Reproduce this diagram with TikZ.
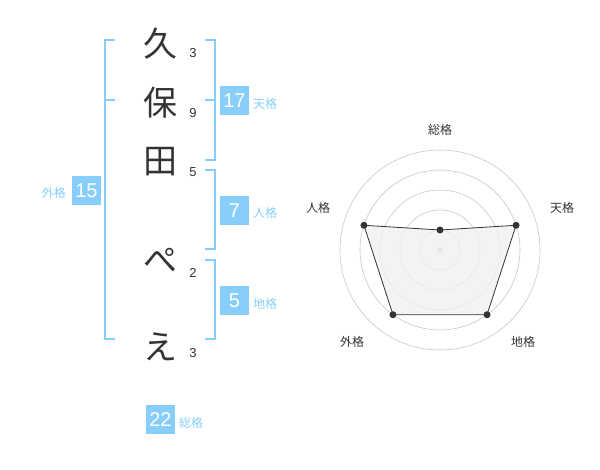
\documentclass[tikz,border=0pt]{standalone}
\usepackage{fontspec}
\setmainfont{Liberation Sans}
\newfontfamily\jp{Noto Sans CJK JP}
\definecolor{sky}{RGB}{135,206,250}
\definecolor{ink}{RGB}{51,51,51}
\tikzset{
  char/.style={text=ink,font=\jp\fontsize{34}{34}\selectfont,inner sep=0pt},
  strokes/.style={text=ink,font=\fontsize{13}{13}\selectfont,inner sep=0pt},
  score/.style={fill=sky,text=white,minimum size=29pt,inner sep=0pt,font=\fontsize{20}{20}\selectfont},
  kaku/.style={text=sky,font=\jp\fontsize{12}{12}\selectfont,inner sep=0pt},
  axis/.style={text=ink,font=\jp\fontsize{12}{12}\selectfont,inner sep=0pt},
  bracket/.style={draw=sky,line width=1.5pt},
  ring/.style={draw=black!22,line width=0.6pt},
  dot/.style={circle,fill=ink,inner sep=0pt,minimum size=7pt}
}
\begin{document}
\begin{tikzpicture}[x=1pt,y=-1pt]
  \useasboundingbox (0,0) rectangle (600,470);
  % name characters
  \node[char] (c1) at (160,44) {久};
  \node[char] (c2) at (160,103) {保};
  \node[char] (c3) at (160,162) {田};
  \node[char] (c4) at (160,260) {ぺ};
  \node[char] (c5) at (160,347) {え};
  \node[strokes] (s1) at (193,53) {3};
  \node[strokes] (s2) at (193,113) {9};
  \node[strokes] (s3) at (193,172) {5};
  \node[strokes] (s4) at (193,273) {2};
  \node[strokes] (s5) at (193,353) {3};
  % brackets
  \draw[bracket] (115,40) -- (105,40) -- (105,339) -- (115,339);
  \draw[bracket] (105,100) -- (115,100);
  \draw[bracket] (205,40) -- (215,40) -- (215,160) -- (205,160);
  \draw[bracket] (205,100) -- (215,100);
  \draw[bracket] (205,170) -- (215,170) -- (215,249) -- (205,249);
  \draw[bracket] (205,260) -- (215,260) -- (215,339) -- (205,339);
  % scores
  \node[score] (ten) at (234.5,100.5) {17};
  \node[kaku,anchor=west] (tenl) at (253,104) {天格};
  \node[score] (jin) at (234.5,210.5) {7};
  \node[kaku,anchor=west] (jinl) at (253,213) {人格};
  \node[score] (chi) at (234.5,300.5) {5};
  \node[kaku,anchor=west] (chil) at (253,304) {地格};
  \node[score] (gai) at (86.5,190.5) {15};
  \node[kaku,anchor=east] (gail) at (66,193) {外格};
  \node[score] (sou) at (160.5,419.5) {22};
  \node[kaku,anchor=west] (soul) at (179,423) {総格};
  % radar
  \begin{scope}[shift={(440,250)},y=1pt]
    \foreach \r in {20,40,60,80,100}
      \draw[ring] (0,0) circle (\r);
    \fill[black!22] (0,0) circle (3);
    \draw
      (90:20) coordinate (p1)
      (18:80) coordinate (p2)
      (-54:80) coordinate (p3)
      (-126:80) coordinate (p4)
      (162:80) coordinate (p5);
    \draw[fill=black!6,fill opacity=0.8,draw=ink,line width=0.8pt]
      (p1) -- (p2) -- (p3) -- (p4) -- (p5) -- cycle;
    \foreach \p in {p1,p2,p3,p4,p5}
      \node[dot] at (\p) {};
    \node[axis] (a1) at (0,120) {総格};
    \node[axis] (a2) at (122,42) {天格};
    \node[axis] (a3) at (83,-92) {地格};
    \node[axis] (a4) at (-88,-92) {外格};
    \node[axis] (a5) at (-122,42) {人格};
  \end{scope}
\end{tikzpicture}
\end{document}
